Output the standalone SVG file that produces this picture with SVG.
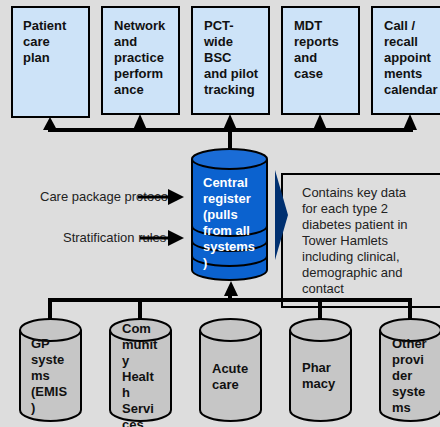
<svg xmlns="http://www.w3.org/2000/svg" width="440" height="427" viewBox="0 0 440 427">
<defs>
<style>
.box{fill:#cde3f8;stroke:#000;stroke-width:2}
.bt{font-family:"Liberation Sans",Arial,sans-serif;font-size:13px;font-weight:bold;fill:#111}
.wt{font-family:"Liberation Sans",Arial,sans-serif;font-size:13px;font-weight:bold;fill:#fff}
.nt{font-family:"Liberation Sans",Arial,sans-serif;font-size:13px;fill:#222}
.cyl{fill:#c6c6c6;stroke:#000;stroke-width:2}
.bl{fill:#0b62cf;stroke:#000;stroke-width:2}
.ln{stroke:#000;stroke-width:4;fill:none}
.ah{fill:#000}
</style>
</defs>
<rect x="0" y="0" width="440" height="427" fill="#dddddd"/>

<g id="desc-box">
<rect x="282" y="174" width="170" height="133" fill="#dddddd" stroke="#000" stroke-width="2"/>
<text class="nt"><tspan x="302" y="197">Contains key data</tspan><tspan x="302" y="213">for each type 2</tspan><tspan x="302" y="229">diabetes patient in</tspan><tspan x="302" y="245">Tower Hamlets</tspan><tspan x="302" y="261">including clinical,</tspan><tspan x="302" y="277">demographic and</tspan><tspan x="302" y="293">contact</tspan></text>
</g>

<g id="care-package-label"><text class="nt" x="40" y="201">Care package protocols</text></g>
<g id="stratification-label"><text class="nt" x="63" y="242">Stratification rules</text></g>

<g id="connectors">
<path class="ln" d="M48 130 H413 M230 130 V150"/>
<polygon class="ah" points="50,117 43,130 57,130"/>
<polygon class="ah" points="140,114 133,130 147,130"/>
<polygon class="ah" points="230,114 223,130 237,130"/>
<polygon class="ah" points="320,114 313,130 327,130"/>
<polygon class="ah" points="410,114 403,130 417,130"/>
<path class="ln" d="M48 300 H412 M50 300 V320 M140 300 V320 M230 300 V294 M320 300 V320 M410 300 V320"/>
<polygon class="ah" points="231,281 224,296 238,296"/>
<path d="M138 197 H170 M140 238 H170" stroke="#000" stroke-width="3"/>
<polygon class="ah" points="168,189 184,197 168,205"/>
<polygon class="ah" points="168,230 184,238 168,246"/>
<polygon points="275,170 288,215 275,260" fill="#003070"/>
</g>

<g id="patient-care-plan">
<rect class="box" x="12" y="7" width="77" height="110"/>
<text class="bt"><tspan x="23" y="30">Patient</tspan><tspan x="23" y="46">care</tspan><tspan x="23" y="62">plan</tspan></text>
</g>
<g id="network-performance">
<rect class="box" x="102" y="7" width="77" height="107"/>
<text class="bt"><tspan x="114" y="30">Network</tspan><tspan x="114" y="46">and</tspan><tspan x="114" y="62">practice</tspan><tspan x="114" y="78">perform</tspan><tspan x="114" y="94">ance</tspan></text>
</g>
<g id="pct-bsc">
<rect class="box" x="192" y="7" width="77" height="107"/>
<text class="bt"><tspan x="204" y="30">PCT-</tspan><tspan x="204" y="46">wide</tspan><tspan x="204" y="62">BSC</tspan><tspan x="204" y="78">and pilot</tspan><tspan x="204" y="94">tracking</tspan></text>
</g>
<g id="mdt-reports">
<rect class="box" x="282" y="7" width="77" height="107"/>
<text class="bt"><tspan x="294" y="30">MDT</tspan><tspan x="294" y="46">reports</tspan><tspan x="294" y="62">and</tspan><tspan x="294" y="78">case</tspan></text>
</g>
<g id="call-recall">
<rect class="box" x="372" y="7" width="77" height="107"/>
<text class="bt"><tspan x="384" y="30">Call /</tspan><tspan x="384" y="46">recall</tspan><tspan x="384" y="62">appoint</tspan><tspan x="384" y="78">ments</tspan><tspan x="384" y="94">calendar</tspan></text>
</g>

<g id="central-register">
<path class="bl" d="M192 159 V270 A37.5 10 0 0 0 267 270 V159"/>
<ellipse cx="229.5" cy="159" rx="37.5" ry="10" fill="#1a6cd6" stroke="#000" stroke-width="2"/>
<path d="M192 226 A37.5 10 0 0 0 267 226 M192 241 A37.5 10 0 0 0 267 241 M192 256 A37.5 10 0 0 0 267 256" fill="none" stroke="#000" stroke-width="2"/>
<text class="wt"><tspan x="203" y="187">Central</tspan><tspan x="203" y="203">register</tspan><tspan x="203" y="219">(pulls</tspan><tspan x="203" y="235">from all</tspan><tspan x="203" y="251">systems</tspan><tspan x="203" y="267">)</tspan></text>
</g>

<g id="gp-systems">
<path class="cyl" d="M20 330 V410 A30.5 11 0 0 0 81 410 V330"/>
<ellipse class="cyl" cx="50.5" cy="330" rx="30.5" ry="11"/>
<text class="bt"><tspan x="31" y="348">GP</tspan><tspan x="31" y="364">syste</tspan><tspan x="31" y="380">ms</tspan><tspan x="31" y="396">(EMIS</tspan><tspan x="31" y="412">)</tspan></text>
</g>
<g id="community-health">
<path class="cyl" d="M110 330 V410 A30.5 11 0 0 0 171 410 V330"/>
<ellipse class="cyl" cx="140.5" cy="330" rx="30.5" ry="11"/>
<text class="bt"><tspan x="122" y="333">Com</tspan><tspan x="122" y="349">munit</tspan><tspan x="122" y="365">y</tspan><tspan x="122" y="381">Healt</tspan><tspan x="122" y="397">h</tspan><tspan x="122" y="413">Servi</tspan><tspan x="122" y="429">ces</tspan></text>
</g>
<g id="acute-care">
<path class="cyl" d="M200 330 V410 A30.5 11 0 0 0 261 410 V330"/>
<ellipse class="cyl" cx="230.5" cy="330" rx="30.5" ry="11"/>
<text class="bt"><tspan x="212" y="373">Acute</tspan><tspan x="212" y="389">care</tspan></text>
</g>
<g id="pharmacy">
<path class="cyl" d="M290 330 V410 A30.5 11 0 0 0 351 410 V330"/>
<ellipse class="cyl" cx="320.5" cy="330" rx="30.5" ry="11"/>
<text class="bt"><tspan x="302" y="372">Phar</tspan><tspan x="302" y="388">macy</tspan></text>
</g>
<g id="other-providers">
<path class="cyl" d="M380 330 V410 A30.5 11 0 0 0 441 410 V330"/>
<ellipse class="cyl" cx="410.5" cy="330" rx="30.5" ry="11"/>
<text class="bt"><tspan x="392" y="348">Other</tspan><tspan x="392" y="364">provi</tspan><tspan x="392" y="380">der</tspan><tspan x="392" y="396">syste</tspan><tspan x="392" y="412">ms</tspan></text>
</g>
</svg>
